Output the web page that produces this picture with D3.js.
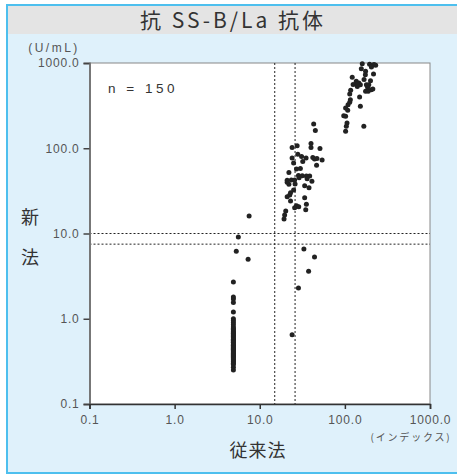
<!DOCTYPE html>
<html>
<head>
<meta charset="utf-8">
<script src="https://cdn.jsdelivr.net/npm/d3@7"></script>
<style>
  body { margin: 0; background: #fff; }
  text { font-family: "Liberation Sans", "Noto Sans CJK JP", sans-serif; }
  .cjk { font-family: "Noto Sans CJK JP", sans-serif; }
</style>
</head>
<body>
<svg id="chart" width="457" height="475"></svg>
<script>
const width = 457;
const height = 475;

const title = "抗 SS-B/La 抗体";
const tickValues = [0.1, 1, 10, 100, 1000];
const cutX = [15, 26];
const cutY = [7.5, 10];

// column at the detection floor of the old method
const floorX = [
    4.9, 4.9, 4.9, 4.9, 4.9, 4.9, 4.9, 4.9, 4.9, 4.9,
    4.9, 4.9, 4.9, 4.9, 4.9, 4.9, 4.9, 4.9, 4.9, 4.9,
    4.9, 4.9, 4.9, 4.9, 4.9, 4.9, 4.9, 4.9, 4.9, 4.9,
    4.9, 4.9, 4.9, 4.9, 4.9, 4.9, 4.9, 4.9, 4.9, 4.9,
    4.9, 4.9, 4.9, 4.9, 4.9, 4.9, 4.9, 4.9, 4.9, 4.9
];
const floorY = [
    2.7, 1.8, 1.7, 1.55, 1.2, 1.0, 0.95, 0.9, 0.85, 0.8,
    0.77, 0.75, 0.72, 0.7, 0.68, 0.67, 0.65, 0.63, 0.62, 0.6,
    0.58, 0.57, 0.56, 0.54, 0.53, 0.52, 0.5, 0.49, 0.48, 0.47,
    0.46, 0.45, 0.44, 0.43, 0.42, 0.41, 0.4, 0.39, 0.38, 0.37,
    0.36, 0.35, 0.34, 0.33, 0.32, 0.31, 0.3, 0.29, 0.27, 0.25
];

// scattered points between groups
const looseX = [7.5, 5.6, 5.3, 7.3, 33, 44, 37.5, 28.5, 24];
const looseY = [16, 9.1, 6.2, 5.0, 6.6, 5.3, 3.6, 2.3, 0.65];

// middle group
const midX = [
    43, 45, 40, 40, 51, 24, 27.5, 24, 28, 31,
    35, 32, 42, 47, 54, 46.5, 25, 27, 22, 28.5,
    31.6, 35.3, 38.6, 41, 21, 23.5, 25.7, 22, 33.7, 37.9,
    25, 22.5, 21, 33.7, 23, 35.3, 27, 25.7, 28.7, 34.7,
    20.2, 19.6, 19.3, 29, 44, 23, 36, 30, 26, 21
];
const midY = [
    192, 162, 114, 102, 99, 102, 107, 77, 85, 80,
    77, 70, 78, 76, 73, 63, 67, 57, 52, 48,
    47.6, 47.2, 47.2, 41, 42, 42.5, 42.5, 37.8, 36.4, 34.4,
    32.4, 28.3, 27, 26.3, 24, 22, 21.2, 20.1, 20.6, 19,
    18.4, 16.5, 14.8, 45, 75, 30, 44, 58, 38, 40
];

// upper group
const topX = [
    160, 195, 210, 230, 156, 175, 174, 217, 122, 136,
    146, 152, 138, 179, 191, 204, 213, 175, 188, 117,
    114, 149, 116, 114, 109, 102, 152, 97, 102, 106,
    104, 102, 167, 220, 200, 185, 140, 125, 168, 205,
    108
];
const topY = [
    980, 970, 940, 940, 858, 799, 730, 743, 680, 610,
    582, 557, 567, 557, 557, 486, 495, 465, 465, 478,
    433, 399, 371, 346, 324, 296, 310, 241, 237, 198,
    181, 158, 181, 960, 620, 520, 530, 560, 640, 900,
    280
];

const points = [
    ...floorX.map((x, i) => ({ x, y: floorY[i] })),
    ...looseX.map((x, i) => ({ x, y: looseY[i] })),
    ...midX.map((x, i) => ({ x, y: midY[i] })),
    ...topX.map((x, i) => ({ x, y: topY[i] }))
];

const svg = d3.select("#chart");

// background + frame
svg.append("rect")
    .attr("x", 6).attr("y", 4)
    .attr("width", width).attr("height", height - 6)
    .attr("fill", "#dff1fb");
svg.append("rect")
    .attr("x", 6).attr("y", 5)
    .attr("width", width).attr("height", 29)
    .attr("fill", "#e4e4e4");
svg.append("rect")
    .attr("x", 7).attr("y", 5)
    .attr("width", width).attr("height", height - 7)
    .attr("fill", "none")
    .attr("stroke", "#4dbfee")
    .attr("stroke-width", 2);

svg.append("text")
    .attr("class", "cjk")
    .attr("x", 233).attr("y", 28)
    .attr("text-anchor", "middle")
    .attr("font-size", 21)
    .attr("letter-spacing", 3)
    .attr("fill", "#333")
    .text(title);

const x = d3.scaleLog().domain([0.1, 1000]).range([89.5, 430]);
const y = d3.scaleLog().domain([0.1, 1000]).range([404, 63]);
const fmt = d3.format(".1f");

// plot area
svg.append("rect")
    .attr("x", x(0.1)).attr("y", y(1000))
    .attr("width", x(1000) - x(0.1)).attr("height", y(0.1) - y(1000))
    .attr("fill", "#fff")
    .attr("stroke", "#888")
    .attr("stroke-width", 1);

// cut-off lines
svg.selectAll(".cutx")
    .data(cutX)
    .enter().append("line")
    .attr("x1", d => x(d)).attr("x2", d => x(d))
    .attr("y1", y(1000)).attr("y2", y(0.1))
    .attr("stroke", "#222")
    .attr("stroke-dasharray", "2,2");
svg.selectAll(".cuty")
    .data(cutY)
    .enter().append("line")
    .attr("x1", x(0.1)).attr("x2", x(1000))
    .attr("y1", d => y(d)).attr("y2", d => y(d))
    .attr("stroke", "#222")
    .attr("stroke-dasharray", "2,2");

// axes
const yAxis = svg.append("g")
    .attr("transform", `translate(${x(0.1)},0)`)
    .call(d3.axisLeft(y).tickValues(tickValues).tickFormat(fmt).tickSize(6).tickPadding(4));
yAxis.select(".domain").attr("stroke", "#777").attr("stroke-width", 2);
yAxis.selectAll(".tick line").attr("stroke", "#444").attr("stroke-width", 1.5);
yAxis.selectAll(".tick text")
    .attr("font-size", 12).attr("fill", "#555")
    .attr("letter-spacing", 0.8)
    .attr("font-family", "Liberation Sans, sans-serif");

const xAxis = svg.append("g")
    .attr("transform", `translate(0,${y(0.1)})`)
    .call(d3.axisBottom(x).tickValues(tickValues).tickFormat(fmt).tickSize(5).tickPadding(6));
xAxis.select(".domain").attr("stroke", "#333").attr("stroke-width", 1.5);
xAxis.selectAll(".tick line").attr("stroke", "#333").attr("stroke-width", 1.5);
xAxis.selectAll(".tick text")
    .attr("font-size", 12).attr("fill", "#555")
    .attr("letter-spacing", 0.8)
    .attr("font-family", "Liberation Sans, sans-serif");

// dots
svg.selectAll(".dot")
    .data(points)
    .enter().append("circle")
    .attr("class", "dot")
    .attr("cx", d => x(d.x))
    .attr("cy", d => y(d.y))
    .attr("r", 2.5)
    .attr("fill", "#222");

// labels
svg.append("text")
    .attr("x", 54).attr("y", 52)
    .attr("text-anchor", "middle")
    .attr("font-size", 12).attr("letter-spacing", 2.5)
    .attr("fill", "#555")
    .text("(U/mL)");

svg.append("text")
    .attr("x", 108).attr("y", 93)
    .attr("font-size", 13.5).attr("letter-spacing", 3.5)
    .attr("fill", "#333")
    .text("n = 150");

svg.append("text")
    .attr("class", "cjk")
    .attr("x", 30).attr("y", 224)
    .attr("text-anchor", "middle")
    .attr("font-size", 18).attr("fill", "#333")
    .text("新");
svg.append("text")
    .attr("class", "cjk")
    .attr("x", 30).attr("y", 264)
    .attr("text-anchor", "middle")
    .attr("font-size", 18).attr("fill", "#333")
    .text("法");

svg.append("text")
    .attr("class", "cjk")
    .attr("x", 258).attr("y", 457)
    .attr("text-anchor", "middle")
    .attr("font-size", 18).attr("letter-spacing", 1)
    .attr("fill", "#333")
    .text("従来法");

svg.append("text")
    .attr("class", "cjk")
    .attr("x", 411).attr("y", 441)
    .attr("text-anchor", "middle")
    .attr("font-size", 10).attr("letter-spacing", 1.8)
    .attr("fill", "#555")
    .text("(インデックス)");
</script>
</body>
</html>
